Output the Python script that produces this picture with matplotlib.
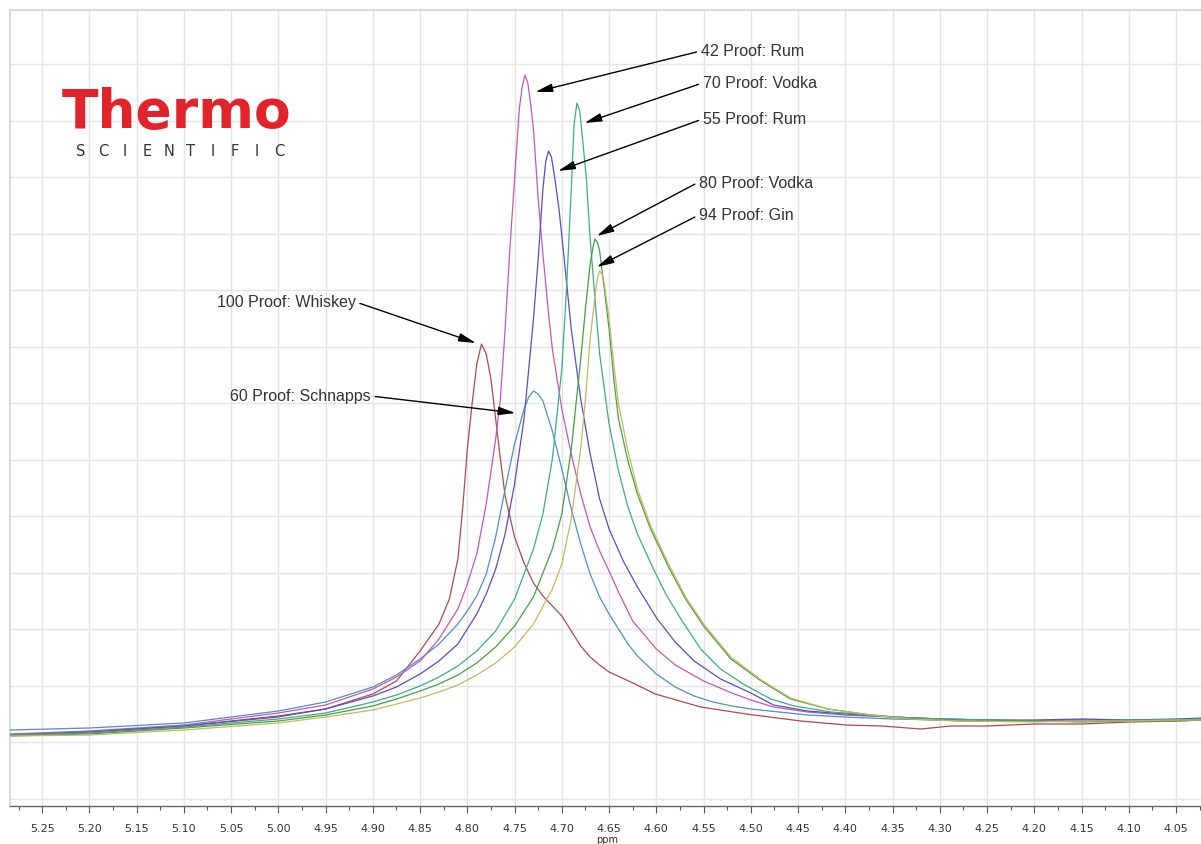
import matplotlib
matplotlib.use("Agg")
import matplotlib.pyplot as plt
import numpy as np
from matplotlib.ticker import MultipleLocator, FixedLocator

# ---------------- data (ppm, intensity in arbitrary units) ----------------
ppm_whiskey = [5.284, 5.20, 5.10, 5.00, 4.95, 4.90, 4.875, 4.85, 4.83, 4.819, 4.81, 4.805, 4.80, 4.795, 4.79,
               4.785, 4.78, 4.775, 4.77, 4.765, 4.76, 4.75, 4.74, 4.73, 4.72, 4.71, 4.70, 4.69, 4.68, 4.67,
               4.66, 4.65, 4.627, 4.601, 4.553, 4.505, 4.447, 4.399, 4.362, 4.320, 4.288, 4.25, 4.20, 4.15, 4.10,
               4.05, 4.021]
int_whiskey = [64, 67, 73, 82, 90, 105, 118, 148, 175, 200, 240, 290, 350, 395, 435,
               455, 445, 420, 380, 340, 303, 262, 236, 216, 203, 193, 183, 168, 153, 142,
               134, 127, 117, 105, 92, 85, 78, 74, 73, 70, 73, 73, 75, 75, 77,
               78, 79]

ppm_schnapps = [5.284, 5.20, 5.10, 5.00, 4.95, 4.90, 4.875, 4.85, 4.83, 4.81, 4.80, 4.79, 4.78, 4.77, 4.76,
                4.75, 4.74, 4.735, 4.73, 4.725, 4.72, 4.71, 4.70, 4.69, 4.68, 4.67, 4.66, 4.65, 4.64, 4.63,
                4.62, 4.60, 4.58, 4.56, 4.54, 4.52, 4.50, 4.47, 4.44, 4.40, 4.35, 4.30, 4.25, 4.20, 4.15,
                4.10, 4.05, 4.021]
int_schnapps = [69, 71, 76, 88, 97, 112, 124, 140, 155, 175, 188, 203, 225, 262, 310,
                355, 390, 402, 408, 405, 398, 368, 330, 290, 255, 225, 202, 185, 170, 155,
                143, 125, 112, 103, 97, 93, 90, 87, 84, 82, 80, 79, 78, 78, 79,
                78, 79, 80]

ppm_rum42 = [5.284, 5.20, 5.10, 5.00, 4.95, 4.90, 4.875, 4.85, 4.83, 4.81, 4.80, 4.79, 4.78, 4.77, 4.765,
             4.76, 4.755, 4.75, 4.745, 4.742, 4.739, 4.736, 4.733, 4.73, 4.725, 4.72, 4.714, 4.71, 4.70, 4.69,
             4.68, 4.67, 4.66, 4.65, 4.64, 4.625, 4.60, 4.58, 4.55, 4.52, 4.50, 4.476, 4.44, 4.40, 4.35,
             4.30, 4.25, 4.20, 4.15, 4.10, 4.05, 4.021]
int_rum42 = [65, 68, 74, 86, 94, 110, 122, 138, 160, 190, 215, 245, 295, 360, 400,
             470, 550, 620, 690, 712, 724, 716, 695, 670, 600, 545, 485, 450, 390, 345,
             305, 272, 248, 228, 207, 178, 150, 134, 118, 106, 99, 92, 87, 84, 82,
             80, 79, 78, 79, 79, 79, 80]

ppm_rum55 = [5.284, 5.20, 5.10, 5.00, 4.95, 4.90, 4.875, 4.85, 4.83, 4.81, 4.80, 4.79, 4.78, 4.77, 4.76,
             4.75, 4.74, 4.73, 4.725, 4.72, 4.717, 4.714, 4.711, 4.707, 4.703, 4.698, 4.69, 4.68, 4.67, 4.66,
             4.65, 4.635, 4.62, 4.599, 4.58, 4.56, 4.532, 4.50, 4.476, 4.44, 4.40, 4.35, 4.30, 4.25, 4.20,
             4.15, 4.10, 4.05, 4.021]
int_rum55 = [64, 67, 73, 83, 90, 103, 112, 125, 138, 155, 170, 185, 205, 230, 265,
             315, 380, 480, 540, 610, 638, 648, 642, 618, 590, 545, 470, 400, 345, 300,
             270, 238, 212, 180, 157, 138, 120, 106, 94, 88, 85, 82, 80, 79, 79,
             80, 79, 80, 81]

ppm_vodka70 = [5.284, 5.20, 5.10, 5.00, 4.95, 4.90, 4.875, 4.85, 4.83, 4.81, 4.79, 4.77, 4.75, 4.73, 4.72,
               4.71, 4.70, 4.695, 4.69, 4.687, 4.684, 4.681, 4.678, 4.674, 4.67, 4.664, 4.66, 4.65, 4.64, 4.63,
               4.62, 4.604, 4.59, 4.574, 4.553, 4.532, 4.508, 4.479, 4.454, 4.415, 4.373, 4.331, 4.25, 4.20, 4.15,
               4.10, 4.05, 4.021]
int_vodka70 = [64, 66, 72, 80, 86, 97, 104, 113, 122, 133, 148, 168, 200, 250, 285,
               340, 430, 510, 610, 675, 696, 688, 660, 620, 560, 490, 445, 375, 328, 292,
               265, 232, 205, 180, 150, 130, 115, 100, 93, 87, 84, 81, 79, 78, 78,
               79, 79, 80]

ppm_vodka80 = [5.284, 5.20, 5.10, 5.00, 4.95, 4.90, 4.875, 4.85, 4.83, 4.81, 4.79, 4.77, 4.75, 4.73, 4.71,
               4.70, 4.69, 4.68, 4.675, 4.67, 4.667, 4.665, 4.662, 4.66, 4.655, 4.65, 4.645, 4.64, 4.63, 4.62,
               4.606, 4.587, 4.569, 4.55, 4.521, 4.489, 4.458, 4.418, 4.373, 4.331, 4.278, 4.20, 4.15, 4.10, 4.05,
               4.021]
int_vodka80 = [63, 65, 71, 78, 84, 93, 100, 108, 115, 124, 136, 152, 173, 202, 250,
               285, 350, 440, 490, 535, 552, 560, 556, 548, 510, 470, 420, 380, 338, 305,
               270, 232, 200, 173, 140, 118, 100, 90, 84, 80, 78, 78, 77, 78, 78,
               79]

ppm_gin94 = [5.284, 5.20, 5.10, 5.00, 4.95, 4.90, 4.875, 4.85, 4.83, 4.81, 4.79, 4.77, 4.75, 4.73, 4.71,
             4.70, 4.69, 4.68, 4.675, 4.67, 4.664, 4.662, 4.66, 4.657, 4.655, 4.65, 4.645, 4.64, 4.63, 4.62,
             4.606, 4.587, 4.569, 4.55, 4.521, 4.489, 4.458, 4.418, 4.373, 4.331, 4.278, 4.20, 4.15, 4.10, 4.05,
             4.021]
int_gin94 = [63, 64, 69, 76, 82, 89, 95, 101, 107, 114, 124, 136, 152, 175, 210,
             235, 280, 350, 400, 460, 510, 522, 528, 524, 515, 480, 435, 395, 348, 310,
             273, 235, 202, 175, 142, 119, 101, 90, 84, 80, 78, 77, 78, 78, 79,
             79]

series_labels = ["100 Proof: Whiskey", "60 Proof: Schnapps", "42 Proof: Rum", "55 Proof: Rum",
                 "70 Proof: Vodka", "80 Proof: Vodka", "94 Proof: Gin"]
series_colors = ["#b04a4e", "#4f8fc8", "#c457b8", "#5a4ec2", "#3dab8f", "#45a044", "#c9b660"]

x_ticks = [5.25, 5.20, 5.15, 5.10, 5.05, 5.00, 4.95, 4.90, 4.85, 4.80, 4.75, 4.70, 4.65, 4.60,
           4.55, 4.50, 4.45, 4.40, 4.35, 4.30, 4.25, 4.20, 4.15, 4.10, 4.05]

# annotations: (label, arrow tip ppm, tip intensity, text ppm, text intensity)
ann_right = [("42 Proof: Rum", 4.728, 707, 4.553, 748),
             ("70 Proof: Vodka", 4.676, 676, 4.551, 716),
             ("55 Proof: Rum", 4.704, 628, 4.551, 680),
             ("80 Proof: Vodka", 4.663, 563, 4.555, 617),
             ("94 Proof: Gin", 4.663, 532, 4.555, 584)]
ann_left = [("100 Proof: Whiskey", 4.791, 456, 4.918, 497),
            ("60 Proof: Schnapps", 4.749, 386, 4.902, 403)]

# ---------------- figure ----------------
W, H = 1201, 845
fig = plt.figure(figsize=(W / 100, H / 100), dpi=100)
fig.patch.set_facecolor("white")
ax = fig.add_axes([10 / W, (H - 807) / H, (W - 10) / W + 0.002, (807 - 11) / H])

xs = [ppm_whiskey, ppm_schnapps, ppm_rum42, ppm_rum55, ppm_vodka70, ppm_vodka80, ppm_gin94]
ys = [int_whiskey, int_schnapps, int_rum42, int_rum55, int_vodka70, int_vodka80, int_gin94]
for x, y, c, lab in zip(xs, ys, series_colors, series_labels):
    ax.plot(x, y, color=c, lw=0.9, label=lab, solid_joinstyle="round", zorder=3)

ax.set_xlim(5.284, 4.021)
ax.set_ylim(-7, 789)

ax.xaxis.set_major_locator(FixedLocator(x_ticks))
ax.xaxis.set_minor_locator(MultipleLocator(0.025))
ax.set_xticklabels([f"{t:.2f}" for t in x_ticks])
ax.yaxis.set_major_locator(FixedLocator(np.arange(0.5, 760, 56.5)))
ax.set_yticklabels([])
ax.tick_params(axis="y", length=0)
ax.tick_params(axis="x", which="major", direction="out", length=5, width=0.8, color="#555555",
               labelsize=8, labelcolor="#333333", pad=7)
ax.tick_params(axis="x", which="minor", direction="out", length=3, width=0.8, color="#555555")
ax.grid(True, which="major", color="#e4e4e4", lw=1.0, zorder=0)
ax.set_axisbelow(True)

for s in ["top", "left"]:
    ax.spines[s].set_color("#d4d4d4")
    ax.spines[s].set_linewidth(1.2)
ax.spines["right"].set_visible(False)
ax.spines["bottom"].set_color("#666666")
ax.spines["bottom"].set_linewidth(1.0)

ax.set_xlabel("ppm", fontsize=7, color="#333333", labelpad=1)

txt_font = dict(family="Liberation Sans", fontsize=11.5, color="#333333")
arrow_kw = dict(arrowstyle="-|>,head_length=0.9,head_width=0.22", color="black", lw=1.0,
                shrinkA=1, shrinkB=0)
for lab, tx, ty, px, py in ann_right:
    ax.annotate(lab, xy=(tx, ty), xytext=(px, py), ha="left", va="center",
                arrowprops=dict(relpos=(0, 0.5), **arrow_kw), zorder=5, **txt_font)
for lab, tx, ty, px, py in ann_left:
    ax.annotate(lab, xy=(tx, ty), xytext=(px, py), ha="right", va="center",
                arrowprops=dict(relpos=(1, 0.5), **arrow_kw), zorder=5, **txt_font)

# logo
fig.text(62 / W, 1 - 128 / H, "Thermo", family="DejaVu Sans", fontweight="bold", fontsize=38.5,
         color="#e1242b", ha="left", va="baseline")
logo_letters = "SCIENTIFIC"
for i, ch in enumerate(logo_letters):
    fig.text((81 + i * 22.0) / W, 1 - 156 / H, ch, family="DejaVu Sans", fontsize=10.5,
             color="#333333", ha="center", va="baseline")

fig.savefig("out.png", dpi=100, facecolor="white")
